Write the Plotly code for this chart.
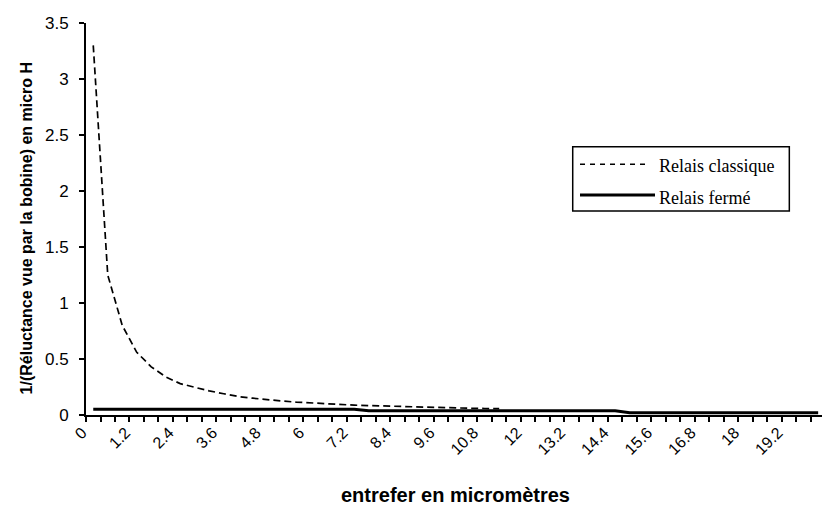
import plotly.graph_objects as go

# Categories (entrefer en micromètres), one every 0.4
gap_um = [0, 0.4, 0.8, 1.2, 1.6, 2.0, 2.4, 2.8, 3.2, 3.6, 4.0, 4.4, 4.8, 5.2, 5.6,
          6.0, 6.4, 6.8, 7.2, 7.6, 8.0, 8.4, 8.8, 9.2, 9.6, 10.0, 10.4, 10.8, 11.2,
          11.6, 12.0, 12.4, 12.8, 13.2, 13.6, 14.0, 14.4, 14.8, 15.2, 15.6, 16.0,
          16.4, 16.8, 17.2, 17.6, 18.0, 18.4, 18.8, 19.2, 19.6, 20.0]

# Relais classique (dashed)
relais_classique = [3.30, 1.25, 0.80, 0.56, 0.43, 0.34, 0.28, 0.245, 0.215, 0.19,
                    0.165, 0.15, 0.135, 0.125, 0.115, 0.107, 0.10, 0.094, 0.088,
                    0.084, 0.08, 0.076, 0.072, 0.067, 0.063, 0.061, 0.06, 0.058, 0.057]

# Relais fermé (solid)
relais_ferme = [0.052, 0.052, 0.052, 0.052, 0.052, 0.052, 0.052, 0.052, 0.052, 0.052,
                0.052, 0.052, 0.052, 0.052, 0.052, 0.052, 0.052, 0.052, 0.052,
                0.037, 0.037, 0.037, 0.037, 0.037, 0.037, 0.037, 0.037, 0.037,
                0.037, 0.037, 0.037, 0.037, 0.037, 0.037, 0.037, 0.037, 0.037,
                0.02, 0.02, 0.02, 0.02, 0.02, 0.02, 0.02, 0.02, 0.02, 0.02,
                0.02, 0.02, 0.02, 0.02]

x_tick_vals = [0, 1.2, 2.4, 3.6, 4.8, 6.0, 7.2, 8.4, 9.6, 10.8, 12.0, 13.2, 14.4,
               15.6, 16.8, 18.0, 19.2]
x_tick_text = ["0", "1.2", "2.4", "3.6", "4.8", "6", "7.2", "8.4", "9.6", "10.8",
               "12", "13.2", "14.4", "15.6", "16.8", "18", "19.2"]
y_tick_vals = [0, 0.5, 1, 1.5, 2, 2.5, 3, 3.5]
y_tick_text = ["0", "0.5", "1", "1.5", "2", "2.5", "3", "3.5"]

fig = go.Figure()
fig.add_trace(go.Scatter(
    x=gap_um[:len(relais_classique)], y=relais_classique, mode="lines",
    name="Relais classique", line=dict(color="black", width=1.7, dash="7px,4px")))
fig.add_trace(go.Scatter(
    x=gap_um, y=relais_ferme, mode="lines",
    name="Relais fermé", line=dict(color="black", width=3)))

SANS = "Liberation Sans, Arial, sans-serif"
SERIF = "Liberation Serif, Times New Roman, serif"

fig.update_layout(
    width=822, height=509,
    margin=dict(l=86, r=0, t=23, b=94),
    paper_bgcolor="white", plot_bgcolor="white",
    showlegend=False,
    font=dict(family=SANS, size=16, color="black"),
    xaxis=dict(
        range=[-0.2, 20.106], showgrid=False, zeroline=False,
        showline=True, linecolor="black", linewidth=2,
        tickmode="array", tickvals=x_tick_vals, ticktext=x_tick_text,
        tickangle=-45, ticks="", ticklabelshift=-11,
        tickfont=dict(family=SANS, size=16, color="black"),
        minor=dict(tickmode="linear", tick0=-0.2, dtick=0.4, ticks="outside",
                   ticklen=5, tickwidth=1.5, tickcolor="black", showgrid=False),
    ),
    yaxis=dict(
        range=[0, 3.5], showgrid=False, zeroline=False,
        showline=True, linecolor="black", linewidth=2,
        tickmode="array", tickvals=y_tick_vals, ticktext=y_tick_text,
        ticks="outside", ticklen=5, tickwidth=1.5, tickcolor="black",
        ticklabelstandoff=7,
        tickfont=dict(family=SANS, size=17, color="black"),
    ),
)

# Axis titles
fig.add_annotation(text="<b>1/(Réluctance vue par la bobine) en micro H</b>",
                   xref="paper", yref="paper", x=-0.0815, y=0.476,
                   xanchor="center", yanchor="middle", textangle=-90,
                   showarrow=False, font=dict(family=SANS, size=16, color="black"))
fig.add_annotation(text="<b>entrefer en micromètres</b>",
                   xref="paper", yref="paper", x=0.5014, y=-0.205,
                   xanchor="center", yanchor="middle",
                   showarrow=False, font=dict(family=SANS, size=20, color="black"))

# Legend box (drawn manually to match the long line samples)
fig.add_shape(type="rect", xref="paper", yref="paper",
              x0=0.6613, x1=0.9556, y0=0.5204, y1=0.6844,
              line=dict(color="black", width=1.5), fillcolor="white")
fig.add_shape(type="line", xref="paper", yref="paper",
              x0=0.6712, x1=0.764, y0=0.6395, y1=0.6395,
              line=dict(color="black", width=1.5, dash="5px,5px"))
fig.add_shape(type="line", xref="paper", yref="paper",
              x0=0.6712, x1=0.7731, y0=0.5612, y1=0.5612,
              line=dict(color="black", width=3))
fig.add_annotation(text="Relais classique", xref="paper", yref="paper",
                   x=0.7755, y=0.6357, xanchor="left", yanchor="middle",
                   showarrow=False, font=dict(family=SERIF, size=18, color="black"))
fig.add_annotation(text="Relais fermé", xref="paper", yref="paper",
                   x=0.7755, y=0.5543, xanchor="left", yanchor="middle",
                   showarrow=False, font=dict(family=SERIF, size=18, color="black"))

fig.write_html(
    "out.html",
    config={"displayModeBar": False},
    post_script="document.body.style.margin='0';document.body.style.overflow='hidden';",
)
